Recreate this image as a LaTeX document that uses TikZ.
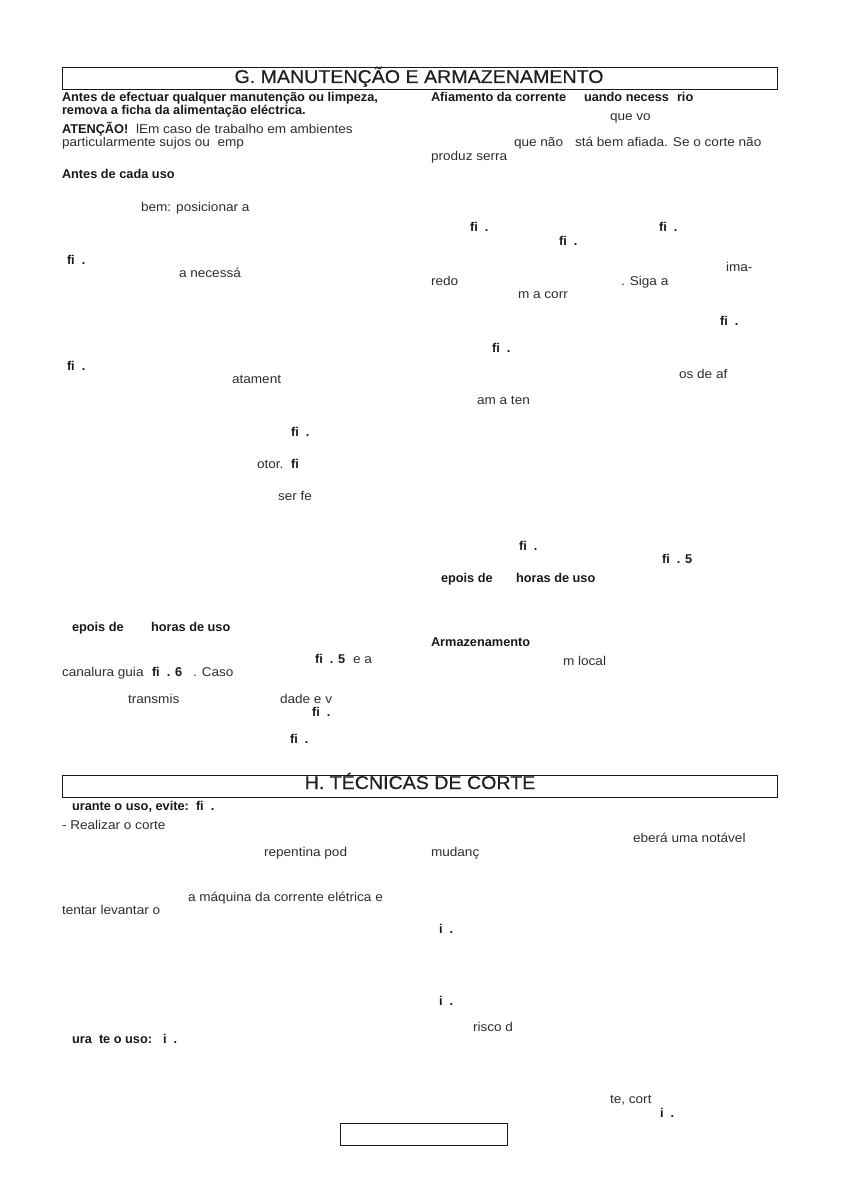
\documentclass[tikz,border=0pt]{standalone}
\usepackage{fontspec}
\setmainfont{Liberation Sans}
\newfontfamily\bodyfont[FakeStretch=1.07]{Liberation Sans}
\newfontfamily\headfont[FakeStretch=1.06,FakeBold=0.35]{Liberation Sans}
\begin{document}
\begin{tikzpicture}[x=1pt,y=-1pt,
  txt/.style={anchor=base west,inner sep=0pt,outer sep=0pt,text=black!82,font=\bodyfont\fontsize{12.7}{14}\selectfont},
  bld/.style={anchor=base west,inner sep=0pt,outer sep=0pt,text=black!90,font=\fontsize{12.75}{14}\selectfont\bfseries},
  ttl/.style={anchor=base,inner sep=0pt,outer sep=0pt,text=black!88,font=\headfont\fontsize{18.5}{20}\selectfont},
  frame/.style={draw=black!90,line width=0.9pt,fill=none}]
\useasboundingbox (0,0) rectangle (840,1190);
\fill[white] (0,0) rectangle (840,1190);
% boxes
\draw[frame] (62.5,67.5) rectangle (777,89.5);
\draw[frame] (62.5,775.5) rectangle (777,797.5);
\draw[frame] (340.5,1123.5) rectangle (507,1145.5);
\node[ttl] (tg) at (419,83) {G. MANUTENÇÃO E ARMAZENAMENTO};
\node[ttl] (th) at (420,789) {H. TÉCNICAS DE CORTE};
% left column, section G
\node[bld] (a1) at (62,101.5) {Antes de efectuar qualquer manutenção ou limpeza,};
\node[bld] (a2) at (62,115) {remova a ficha da alimentação eléctrica.};
\node[bld] (a3) at (62,134) {ATENÇÃO!};
\node[txt] (a4) at (136,134) {lEm caso de trabalho em ambientes};
\node[txt] (a5) at (62,147) {particularmente sujos ou\ \ emp};
\node[bld] (a6) at (62,178.5) {Antes de cada uso};
\node[txt] (a7) at (141,212) {bem: posicionar a};
\node[bld] (a8) at (67,264) {fi\ \ .};
\node[txt] (a9) at (179,277.5) {a necessá};
\node[bld] (a10) at (67,370) {fi\ \ .};
\node[txt] (a11) at (232,383.5) {atament};
\node[bld] (a12) at (291,436) {fi\ \ .};
\node[txt] (a13) at (257,468) {otor.};
\node[bld] (a14) at (291,468) {fi};
\node[txt] (a15) at (278,500) {ser fe};
\node[bld] (a16) at (72,631) {epois de};
\node[bld] (a17) at (151,631) {horas de uso};
\node[bld] (a18) at (315,663) {fi\ \ . 5};
\node[txt] (a19) at (353,663) {e a};
\node[txt] (a20) at (62,676.5) {canalura guia};
\node[bld] (a21) at (152,676.5) {fi\ \ . 6};
\node[txt] (a22) at (193,676.5) {. Caso};
\node[txt] (a23) at (128,703) {transmis};
\node[txt] (a24) at (280,703) {dade e v};
\node[bld] (a25) at (312,716) {fi\ \ .};
\node[bld] (a26) at (290,743) {fi\ \ .};
% right column, section G
\node[bld] (b1) at (431,101.5) {Afiamento da corrente};
\node[bld] (b2) at (584,101.5) {uando necess};
\node[bld] (b3) at (677,101.5) {rio};
\node[txt] (b4) at (610,121) {que vo};
\node[txt] (b5) at (514,147) {que não};
\node[txt] (b6) at (575,147) {stá bem afiada. Se o corte não};
\node[txt] (b7) at (431,161) {produz serra};
\node[bld] (b8) at (470,232) {fi\ \ .};
\node[bld] (b9) at (659,232) {fi\ \ .};
\node[bld] (b10) at (559,246) {fi\ \ .};
\node[txt] (b11) at (726,271) {ima-};
\node[txt] (b12) at (431,285) {redo};
\node[txt] (b13) at (621,285) {. Siga a};
\node[txt] (b14) at (518,298) {m a corr};
\node[bld] (b15) at (720,325) {fi\ \ .};
\node[bld] (b16) at (492,352) {fi\ \ .};
\node[txt] (b17) at (679,378) {os de af};
\node[txt] (b18) at (477,404) {am a ten};
\node[bld] (b19) at (519,550) {fi\ \ .};
\node[bld] (b20) at (662,563) {fi\ \ . 5};
\node[bld] (b21) at (441,582) {epois de};
\node[bld] (b22) at (516,582) {horas de uso};
\node[bld] (b23) at (431,646) {Armazenamento};
\node[txt] (b24) at (563,665) {m local};
% section H, left
\node[bld] (c1) at (72,810) {urante o uso, evite:};
\node[bld] (c2) at (196,810) {fi\ \ .};
\node[txt] (c3) at (62,829) {- Realizar o corte};
\node[txt] (c4) at (264,856) {repentina pod};
\node[txt] (c5) at (188,901) {a máquina da corrente elétrica e};
\node[txt] (c6) at (62,914) {tentar levantar o};
\node[bld] (c7) at (72,1043) {ura};
\node[bld] (c8) at (99,1043) {te o uso:};
\node[bld] (c9) at (163,1043) {i\ \ .};
% section H, right
\node[txt] (d1) at (633,842) {eberá uma notável};
\node[txt] (d2) at (431,856) {mudanç};
\node[bld] (d3) at (439,933) {i\ \ .};
\node[bld] (d4) at (439,1005) {i\ \ .};
\node[txt] (d5) at (473,1031) {risco d};
\node[txt] (d6) at (610,1103) {te, cort};
\node[bld] (d7) at (660,1117) {i\ \ .};
\end{tikzpicture}
\end{document}
